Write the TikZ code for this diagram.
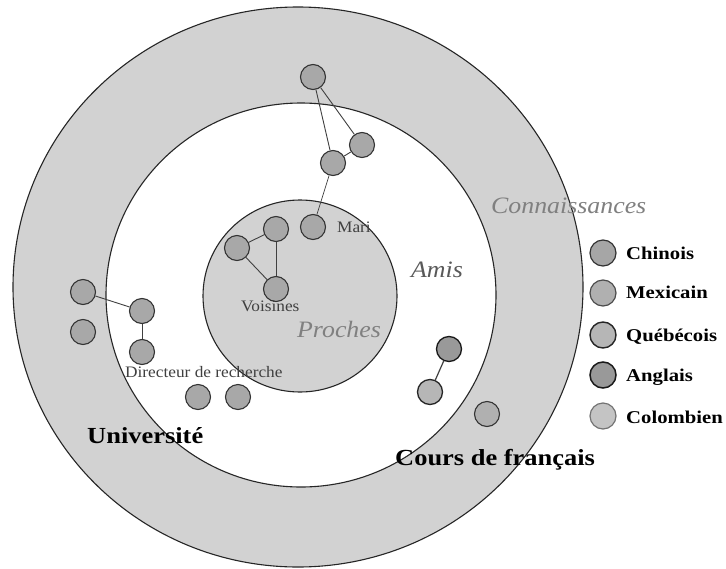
\documentclass[tikz,border=0pt]{standalone}
\usepackage{fontspec}
\setmainfont{Liberation Serif}
\newfontfamily\lblfont[FakeStretch=1.15]{Liberation Serif}
\newfontfamily\itlfont[FakeStretch=1.1]{Liberation Serif}
\newfontfamily\smlfont[FakeStretch=1.08]{Liberation Serif}
\definecolor{ringgray}{HTML}{D2D2D2}
\definecolor{nodegray}{HTML}{A8A8A8}
\definecolor{chin}{HTML}{A6A6A6}
\definecolor{mexi}{HTML}{B0B0B0}
\definecolor{queb}{HTML}{B6B6B6}
\definecolor{angl}{HTML}{999999}
\definecolor{colo}{HTML}{C4C4C4}
\begin{document}
\begin{tikzpicture}[x=1pt,y=-1pt,
  ring/.style={draw=black!85, line width=1.1pt},
  pers/.style={circle, draw=black!80, line width=1.1pt, fill=nodegray, minimum size=25pt, inner sep=0pt},
  legc/.style={circle, draw=black!80, line width=1.2pt, minimum size=26pt, inner sep=0pt},
  link/.style={draw=black!75, line width=0.9pt},
  bigl/.style={anchor=base west, inner sep=0pt, font=\lblfont\bfseries\fontsize{23}{23}\selectfont},
  legl/.style={anchor=base west, inner sep=0pt, font=\lblfont\bfseries\fontsize{18}{18}\selectfont},
  zone/.style={anchor=base west, inner sep=0pt, font=\itlfont\itshape\fontsize{23.5}{23.5}\selectfont},
  small/.style={anchor=base west, inner sep=0pt, text=black!75, font=\smlfont\fontsize{16}{16}\selectfont}]
\useasboundingbox (0,0) rectangle (726,568);
\fill[white] (0,0) rectangle (726,568);
% rings
\draw[ring, fill=ringgray] (298,287) ellipse [x radius=285pt, y radius=280pt];
\draw[ring, fill=white] (301,295) ellipse [x radius=195pt, y radius=192pt];
\draw[ring, fill=ringgray] (300,296) ellipse [x radius=97pt, y radius=96pt];
% people
\node[pers] (t1) at (313,77) {};
\node[pers] (t2) at (362,145) {};
\node[pers] (t3) at (333,163) {};
\node[pers] (mari) at (313,227) {};
\node[pers] (v1) at (276,229) {};
\node[pers] (v2) at (237,248) {};
\node[pers] (v3) at (276,289) {};
\node[pers] (u1) at (83,292) {};
\node[pers] (u2) at (83,332) {};
\node[pers] (u3) at (142,311) {};
\node[pers] (u4) at (142,352) {};
\node[pers] (u5) at (198,397) {};
\node[pers] (u6) at (238,397) {};
\node[pers, fill=angl, draw=black!90, line width=1.3pt] (c1) at (449,349) {};
\node[pers, fill=queb, draw=black!85, line width=1.3pt] (c2) at (430,392) {};
\node[pers, fill=mexi] (c3) at (487,414) {};
% links
\draw[link] (t1) -- (t3);
\draw[link] (t1) -- (t2);
\draw[link] (t2) -- (t3);
\draw[link, line width=0.7pt] (t3) -- (mari);
\draw[link] (v1) -- (v2);
\draw[link] (v2) -- (v3);
\draw[link] (v1) -- (v3);
\draw[link] (u1) -- (u3);
\draw[link] (u3) -- (u4);
\draw[link, line width=1.2pt] (c1) -- (c2);
% zone labels
\node[zone, text=black!50] (lconn) at (491,213) {Connaissances};
\node[zone, text=black!65] (lamis) at (411,277) {Amis};
\node[zone, text=black!50] (lproc) at (297,337) {Proches};
% small labels
\node[small] (lmari) at (337,232) {Mari};
\node[small] (lvois) at (241,311) {Voisines};
\node[small] (ldir) at (125,377) {Directeur de recherche};
% group labels
\node[bigl] (luniv) at (87,443) {Université};
\node[bigl] (lcours) at (395,465) {Cours de français};
% legend
\node[legc, fill=chin] (g1) at (603,253) {};
\node[legc, fill=mexi, draw=black!70] (g2) at (603,293) {};
\node[legc, fill=queb, line width=1.4pt, draw=black!85] (g3) at (603,335) {};
\node[legc, fill=angl, line width=1.5pt, draw=black!90] (g4) at (603,375) {};
\node[legc, fill=colo, draw=black!55] (g5) at (603,416) {};
\node[legl] (n1) at (626,259) {Chinois};
\node[legl] (n2) at (626,298) {Mexicain};
\node[legl] (n3) at (626,341) {Québécois};
\node[legl] (n4) at (626,381) {Anglais};
\node[legl] (n5) at (626,423) {Colombien};
\end{tikzpicture}
\end{document}
